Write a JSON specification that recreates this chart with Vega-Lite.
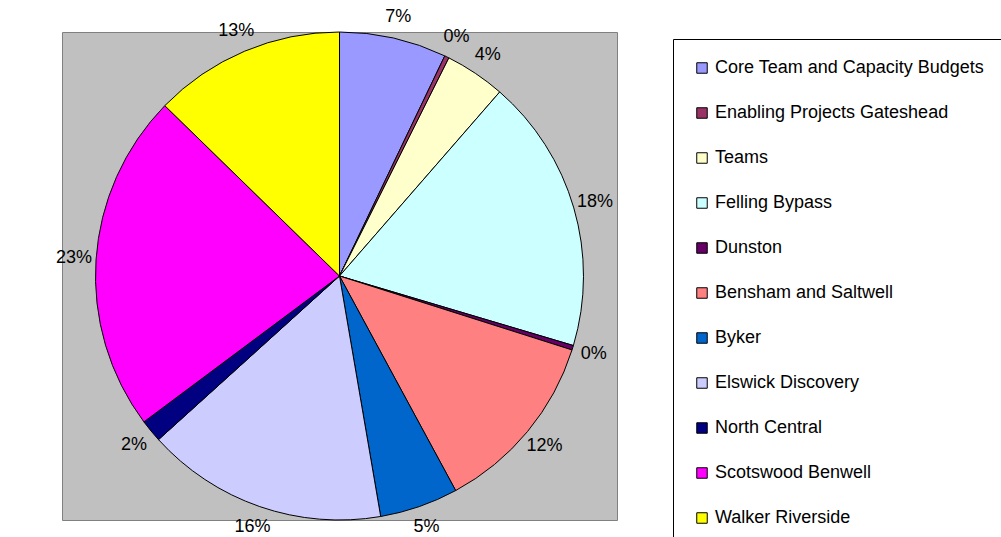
{
  "$schema": "https://vega.github.io/schema/vega-lite/v6.json",
  "width": 555,
  "height": 488,
  "autosize": {"type": "none"},
  "padding": {"left": 62, "top": 32, "right": 384, "bottom": 17},
  "background": "white",
  "view": {"fill": "#C0C0C0", "stroke": "#808080", "strokeWidth": 1},
  "config": {
    "view": {"fill": "#C0C0C0", "stroke": "#808080", "strokeWidth": 1},
    "font": "Liberation Sans"
  },
  "data": {
    "values": [
      {"idx": 1, "project": "Core Team and Capacity Budgets", "value": 7.1, "label": "7%"},
      {"idx": 2, "project": "Enabling Projects Gateshead", "value": 0.3, "label": "0%"},
      {"idx": 3, "project": "Teams", "value": 4.0, "label": "4%"},
      {"idx": 4, "project": "Felling Bypass", "value": 18.2, "label": "18%"},
      {"idx": 5, "project": "Dunston", "value": 0.3, "label": "0%"},
      {"idx": 6, "project": "Bensham and Saltwell", "value": 12.2, "label": "12%"},
      {"idx": 7, "project": "Byker", "value": 5.2, "label": "5%"},
      {"idx": 8, "project": "Elswick Discovery", "value": 16.0, "label": "16%"},
      {"idx": 9, "project": "North Central", "value": 1.5, "label": "2%"},
      {"idx": 10, "project": "Scotswood Benwell", "value": 22.5, "label": "23%"},
      {"idx": 11, "project": "Walker Riverside", "value": 12.7, "label": "13%"}
    ]
  },
  "encoding": {
    "theta": {"field": "value", "type": "quantitative", "stack": true},
    "order": {"field": "idx", "type": "quantitative"}
  },
  "layer": [
    {
      "mark": {"type": "arc", "outerRadius": 244, "stroke": "#000000", "strokeWidth": 1},
      "encoding": {
        "color": {
          "field": "project",
          "type": "nominal",
          "scale": {
            "domain": ["Core Team and Capacity Budgets", "Enabling Projects Gateshead", "Teams", "Felling Bypass", "Dunston", "Bensham and Saltwell", "Byker", "Elswick Discovery", "North Central", "Scotswood Benwell", "Walker Riverside"],
            "range": ["#9999FF", "#993366", "#FFFFCC", "#CCFFFF", "#660066", "#FF8080", "#0066CC", "#CCCCFF", "#000080", "#FF00FF", "#FFFF00"]
          },
          "legend": {
            "title": null,
            "orient": "none",
            "legendX": 611,
            "legendY": 7,
            "direction": "vertical",
            "symbolType": "square",
            "symbolSize": 110,
            "symbolStrokeColor": "#000000",
            "symbolStrokeWidth": 1,
            "labelFontSize": 18,
            "labelFont": "Liberation Sans",
            "labelColor": "#000000",
            "labelOffset": 4,
            "labelLimit": 400,
            "rowPadding": 27,
            "padding": 20,
            "strokeColor": "#000000",
            "fillColor": "#FFFFFF"
          }
        }
      }
    },
    {
      "mark": {"type": "text", "radius": 266, "fontSize": 18, "font": "Liberation Sans", "color": "#000000"},
      "encoding": {
        "text": {"field": "label", "type": "nominal"}
      }
    }
  ]
}
